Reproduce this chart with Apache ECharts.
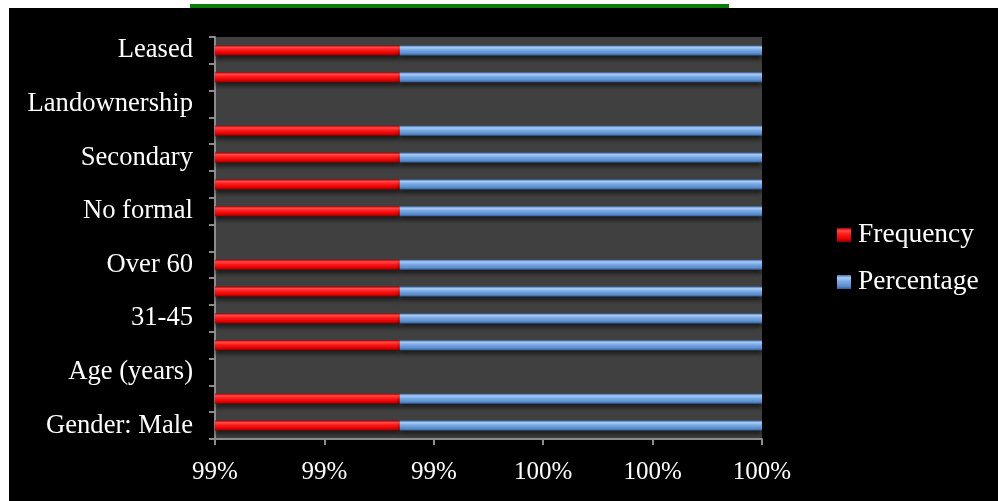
<!DOCTYPE html>
<html>
<head>
<meta charset="utf-8">
<script src="https://cdn.jsdelivr.net/npm/echarts@6/dist/echarts.min.js"></script>
<style>
html,body{margin:0;padding:0;background:#fff;}
#chart{width:998px;height:501px;}
</style>
</head>
<body>
<div id="chart"></div>
<script>
// Categories (bottom to top)
const categories = ['Gender: Male','Female','Age (years)','18-30','31-45','46-60','Over 60','Education','No formal','Primary','Secondary','Tertiary','Landownership','Owned','Leased'];
// Frequency (n) and percentage (as fraction of sample, n = 150)
const frequency  = [105, 45, null, 30, 60, 39, 21, null, 42, 54, 36, 18, null, 111, 39];
const percentage = [0.70, 0.30, null, 0.20, 0.40, 0.26, 0.14, null, 0.28, 0.36, 0.24, 0.12, null, 0.74, 0.26];
// X axis (100% stacked share)
const xMin = 0.99, xMax = 1.00, xStep = 0.002;

// 100% stacked shares built from the raw values
const freqShare = frequency.map((f, i) => f == null ? null : f / (f + percentage[i]));
const pctShare  = percentage.map((p, i) => p == null ? null : p / (frequency[i] + p));

const FONT = '"Liberation Serif","Times New Roman",serif';
const chart = echarts.init(document.getElementById('chart'), null, {renderer:'canvas'});

const redGrad = new echarts.graphic.LinearGradient(0,0,0,1,[
  {offset:0, color:'#b00000'},
  {offset:0.2, color:'#ff4a4a'},
  {offset:0.45, color:'#ff1a1a'},
  {offset:0.8, color:'#e00000'},
  {offset:1, color:'#8a0000'}
]);
const blueGrad = new echarts.graphic.LinearGradient(0,0,0,1,[
  {offset:0, color:'#3d6ca8'},
  {offset:0.2, color:'#a8cdf5'},
  {offset:0.45, color:'#7aaae4'},
  {offset:0.8, color:'#5a8ccc'},
  {offset:1, color:'#355f95'}
]);

chart.setOption({
  backgroundColor:'#ffffff',
  animation:false,
  graphic:[
    {type:'rect', shape:{x:9, y:8, width:989, height:493}, style:{fill:'#000000'}, z:-10, silent:true},
    {type:'rect', shape:{x:190, y:4, width:539, height:4}, style:{fill:'#0a7a0a'}, z:-10, silent:true}
  ],
  grid:{left:215, right:236, top:37, bottom:62, show:true, backgroundColor:'#404040', borderWidth:0},
  legend:{
    orient:'vertical', left:837, top:221, padding:0, itemWidth:14, itemHeight:14, itemGap:19,
    icon:'rect',
    textStyle:{color:'#ffffff', fontFamily:FONT, fontSize:27.5, padding:[0,0,0,2]},
    data:['Frequency','Percentage']
  },
  xAxis:{
    type:'value', min:xMin, max:xMax, interval:xStep,
    axisLine:{show:true, lineStyle:{color:'#8c8c8c', width:2}},
    axisTick:{show:true, length:6, lineStyle:{color:'#8c8c8c', width:2}},
    splitLine:{show:false},
    axisLabel:{color:'#ffffff', fontFamily:FONT, fontSize:25, margin:21,
      formatter:v => Math.round(v*100) + '%'}
  },
  yAxis:{
    type:'category', data:categories,
    axisLine:{show:true, lineStyle:{color:'#8c8c8c', width:2}},
    axisTick:{show:true, length:6, interval:0, lineStyle:{color:'#8c8c8c', width:2}},
    axisLabel:{color:'#ffffff', fontFamily:FONT, fontSize:26.6, margin:22, interval:1, padding:[8,0,0,0]}
  },
  series:[
    {name:'Frequency', type:'bar', stack:'s', barWidth:10, data:freqShare,
     itemStyle:{color:redGrad, shadowColor:'rgba(0,0,0,0.55)', shadowBlur:4, shadowOffsetY:4}},
    {name:'Percentage', type:'bar', stack:'s', barWidth:10, data:pctShare,
     itemStyle:{color:blueGrad, shadowColor:'rgba(0,0,0,0.55)', shadowBlur:4, shadowOffsetY:4}}
  ]
});
</script>
</body>
</html>
